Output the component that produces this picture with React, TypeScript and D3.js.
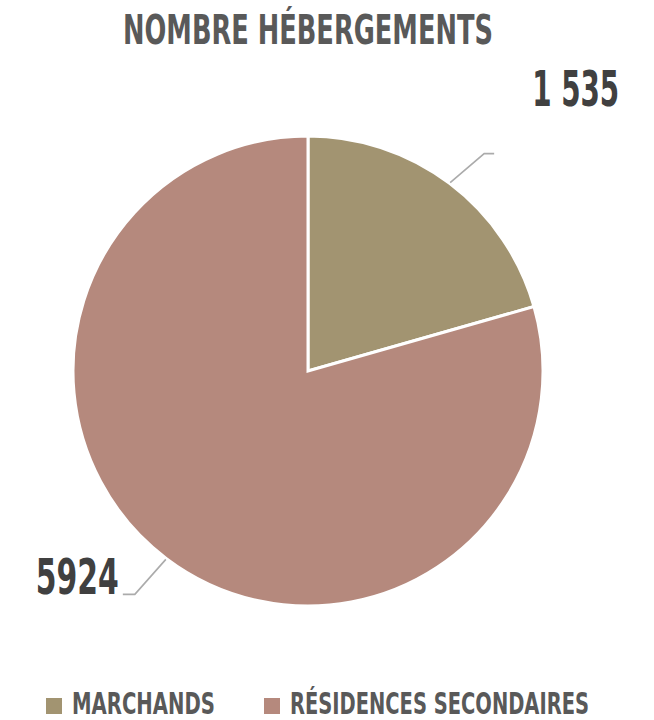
import React from "react";
import * as d3 from "d3";

const categories = ["MARCHANDS", "RÉSIDENCES SECONDAIRES"];
const values = [1535, 5924];
const valueLabels = ["1 535", "5924"];
const colors = ["#A29471", "#B5897D"];
const title = "NOMBRE HÉBERGEMENTS";

const W = 654;
const H = 720;
const FONT = "'DejaVu Sans Condensed', 'Liberation Sans Narrow', sans-serif";

function TallText(props: {
  x: number;
  y: number;
  size: number;
  sy: number;
  len: number;
  anchor?: string;
  fill: string;
  children: React.ReactNode;
}) {
  const { x, y, size, sy, len, anchor, fill, children } = props;
  return (
    <g transform={`translate(${x},${y}) scale(1,${sy})`}>
      <text
        x={0}
        y={0}
        textAnchor={anchor || "start"}
        fontFamily={FONT}
        fontWeight="bold"
        fontSize={size}
        fill={fill}
        textLength={len}
        lengthAdjust="spacingAndGlyphs"
      >
        {children}
      </text>
    </g>
  );
}

export default function App() {
  const cx = 308;
  const cy = 371;
  const r = 235;
  const data = categories.map((c, i) => ({ cat: c, value: values[i], label: valueLabels[i], color: colors[i] }));
  const pie = d3.pie<any>().sort(null).value((d: any) => d.value).startAngle(0).endAngle(2 * Math.PI);
  const arcs = pie(data);
  const arcGen = d3.arc<any>().innerRadius(0).outerRadius(r);

  return (
    <svg width={W} height={H} style={{ position: "absolute", left: 0, top: 0, background: "#fff" }}>
      <TallText x={123} y={44} size={29} sy={1.42} len={370} fill="#595959">
        {title}
      </TallText>
      <g transform={`translate(${cx},${cy})`}>
        {arcs.map((a, i) => (
          <path key={i} d={arcGen(a) as string} fill={a.data.color} stroke="#fff" strokeWidth={3} strokeLinejoin="miter" />
        ))}
      </g>
      {arcs.map((a, i) => {
        const mid = (a.startAngle + a.endAngle) / 2;
        const sx = cx + (r + 1) * Math.sin(mid);
        const sy = cy - (r + 1) * Math.cos(mid);
        const right = Math.sin(mid) > 0;
        const up = Math.cos(mid) > 0;
        const ex = sx + (right ? 34 : -31);
        const ey = sy + (up ? -29 : 35);
        const hx = ex + (right ? 10 : -12);
        const lx = right ? hx + 38 : hx - 4;
        const ly = up ? ey - 48 : ey;
        return (
          <g key={i}>
            <polyline points={`${sx},${sy} ${ex},${ey} ${hx},${ey}`} fill="none" stroke="#ABABAB" strokeWidth={1.6} />
            <TallText
              x={lx}
              y={ly}
              size={31}
              sy={1.63}
              len={right ? 87 : 83}
              anchor={right ? "start" : "end"}
              fill="#404040"
            >
              {a.data.label}
            </TallText>
          </g>
        );
      })}
      <g>
        {data.map((d, i) => {
          const sqX = [46, 264][i];
          const txW = [143, 299][i];
          return (
            <g key={i}>
              <rect x={sqX} y={698} width={16} height={16} fill={d.color} />
              <TallText x={sqX + 26} y={714} size={20} sy={1.5} len={txW} fill="#595959">
                {d.cat}
              </TallText>
            </g>
          );
        })}
      </g>
    </svg>
  );
}
